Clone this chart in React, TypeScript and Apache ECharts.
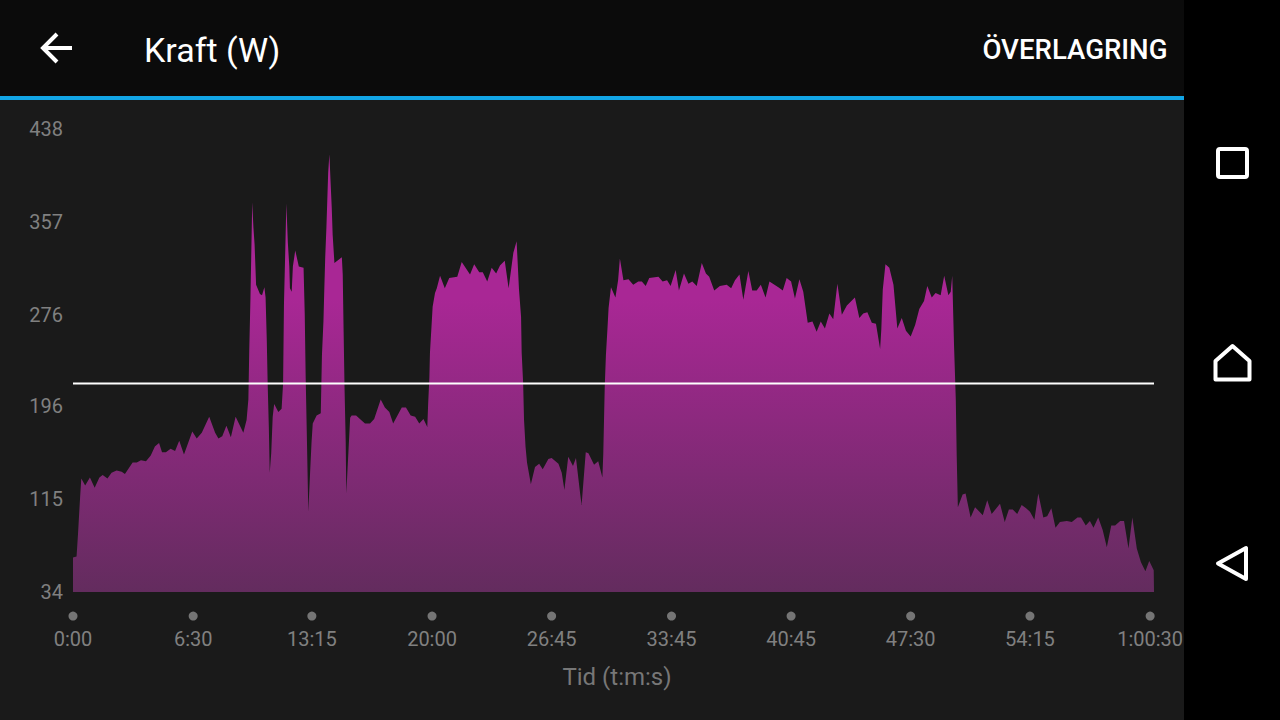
import React, { useEffect, useRef } from "react";
import * as echarts from "echarts";

const seconds = [
  0, 12, 17, 24, 28, 41, 57, 73, 89, 100, 116, 130, 147, 164, 175, 201, 215, 229, 246, 262, 276, 290, 300, 313, 329, 344, 358, 374, 402, 417, 434, 459, 479, 490, 503, 517, 532, 548, 574, 585,
  591, 594, 598, 601, 604, 608, 612, 617, 630, 637, 645, 649, 653, 656, 660, 663, 668, 673, 678, 692, 703, 708, 711, 715, 719, 724, 729, 731, 737, 741, 749, 761, 777, 781, 784, 788, 793, 799, 804, 808,
  821, 835, 839, 844, 847, 850, 854, 857, 860, 864, 868, 872, 875, 881, 906, 909, 912, 915, 919, 921, 926, 934, 939, 954, 967, 984, 1001, 1015, 1037, 1051, 1066, 1079, 1108, 1122, 1138, 1153, 1167, 1181, 1194,
  1197, 1201, 1203, 1208, 1212, 1220, 1226, 1237, 1253, 1268, 1295, 1310, 1338, 1352, 1369, 1381, 1396, 1411, 1426, 1439, 1455, 1468, 1484, 1495, 1503, 1510, 1512, 1517, 1520, 1525, 1530, 1543, 1557, 1571, 1583,
  1602, 1613, 1636, 1647, 1656, 1669, 1685, 1695, 1709, 1714, 1728, 1737, 1756, 1770, 1784, 1787, 1792, 1796, 1801, 1805, 1813, 1828, 1837, 1843, 1855, 1872, 1888, 1905, 1917, 1930, 1942, 1973, 1987, 2002, 2014,
  2031, 2042, 2059, 2074, 2087, 2102, 2119, 2133, 2144, 2161, 2180, 2203, 2218, 2231, 2246, 2259, 2276, 2289, 2304, 2318, 2334, 2347, 2377, 2392, 2405, 2420, 2433, 2448, 2461, 2476, 2492, 2506, 2520, 2534, 2549,
  2562, 2576, 2591, 2608, 2635, 2650, 2663, 2677, 2692, 2706, 2720, 2724, 2729, 2738, 2751, 2765, 2778, 2793, 2807, 2823, 2838, 2852, 2868, 2879, 2894, 2907, 2924, 2936, 2950, 2958, 2963, 2969, 2975, 2978, 2982,
  2998, 3008, 3025, 3040, 3066, 3081, 3096, 3124, 3140, 3154, 3167, 3182, 3197, 3212, 3225, 3240, 3253, 3270, 3283, 3297, 3311, 3326, 3349, 3366, 3385, 3397, 3413, 3427, 3439, 3455, 3470, 3484, 3499, 3512, 3529,
  3542, 3557, 3570, 3585, 3599, 3614, 3627, 3642,
];

const watts = [
  64, 65, 85, 117, 133, 127, 134, 125, 134, 136, 133, 138, 140, 139, 137, 147, 147, 149, 148, 153, 161, 164, 156, 156, 159, 157, 166, 154, 174, 168, 173, 187, 173, 168, 170, 179, 169, 187, 173, 184,
  202, 245, 290, 332, 374, 352, 337, 302, 294, 293, 300, 291, 254, 216, 177, 138, 155, 187, 198, 191, 194, 216, 286, 328, 373, 339, 318, 299, 296, 318, 332, 318, 317, 276, 223, 171, 104, 138, 165, 181,
  188, 190, 241, 270, 299, 326, 352, 376, 400, 416, 392, 369, 346, 321, 326, 311, 261, 213, 165, 120, 145, 186, 188, 188, 185, 181, 181, 185, 202, 195, 191, 181, 195, 195, 188, 187, 181, 185, 178,
  199, 221, 243, 265, 283, 295, 299, 310, 299, 308, 309, 322, 311, 320, 313, 313, 305, 317, 312, 319, 323, 299, 330, 340, 298, 274, 243, 216, 184, 161, 147, 128, 143, 146, 141,
  150, 151, 146, 138, 123, 152, 144, 151, 120, 110, 156, 155, 145, 148, 134, 154, 213, 241, 263, 282, 300, 291, 306, 325, 306, 307, 302, 305, 305, 301, 308, 309, 305, 306, 301,
  315, 297, 312, 303, 305, 301, 321, 312, 309, 297, 301, 302, 299, 306, 311, 289, 314, 297, 297, 302, 291, 305, 300, 297, 308, 305, 290, 307, 296, 269, 270, 261, 270, 264, 277,
  272, 303, 276, 284, 291, 273, 277, 278, 269, 268, 246, 263, 298, 320, 317, 302, 264, 273, 262, 257, 267, 281, 288, 301, 291, 295, 293, 310, 293, 296, 310, 250, 202, 154, 108,
  119, 120, 99, 108, 101, 114, 102, 111, 95, 106, 106, 102, 110, 107, 104, 97, 120, 99, 100, 107, 90, 95, 96, 95, 99, 99, 92, 96, 90, 99, 88, 73, 92, 92, 96,
  96, 72, 99, 72, 60, 52, 61, 53,
];

const yTickValues = [34, 115, 196, 276, 357, 438];
const xTickSeconds = [0, 405, 805, 1210, 1613, 2017, 2420, 2823, 3225, 3630];
const xTickLabels = ["0:00", "6:30", "13:15", "20:00", "26:45", "33:45", "40:45", "47:30", "54:15", "1:00:30"];
const averageWatts = 216;
const xEnd = 3643;

export default function App() {
  const ref = useRef<HTMLDivElement>(null);

  useEffect(() => {
    const chart = echarts.init(ref.current, null, { renderer: "svg" });
    const white = "#ffffff";
    chart.setOption({
      animation: false,
      backgroundColor: "#1a1a1a",
      textStyle: { fontFamily: "Roboto" },
      grid: { left: 73, right: 126, top: 129, bottom: 128 },
      xAxis: {
        type: "value",
        min: 0,
        max: xEnd,
        name: "Tid (t:m:s)",
        nameLocation: "middle",
        nameGap: 73,
        nameTextStyle: { color: "#777777", fontSize: 24, fontFamily: "Roboto", padding: [0, 0, 0, 7] },
        axisLine: { show: false },
        axisTick: { show: false },
        splitLine: { show: false },
        axisLabel: {
          customValues: xTickSeconds,
          margin: 37,
          color: "#808080",
          fontSize: 20,
          fontFamily: "Roboto",
          formatter: (v: number) => xTickLabels[xTickSeconds.indexOf(v)] ?? "",
        },
      },
      yAxis: {
        type: "value",
        min: 34,
        max: 438,
        axisLine: { show: false },
        axisTick: { show: false },
        splitLine: { show: false },
        axisLabel: {
          customValues: yTickValues,
          margin: 10,
          padding: [3, 0, 0, 0],
          color: "#808080",
          fontSize: 20,
          fontFamily: "Roboto",
        },
      },
      series: [
        {
          type: "line",
          data: seconds.map((s, i) => [s, watts[i]]).concat([[xEnd, watts[watts.length - 1]]]),
          showSymbol: false,
          symbol: "none",
          lineStyle: { width: 0, opacity: 0 },
          areaStyle: {
            opacity: 1,
            color: {
              type: "linear",
              x: 0,
              y: 0,
              x2: 0,
              y2: 1,
              colorStops: [
                { offset: 0, color: "#a92795" },
                { offset: 0.33, color: "#a92795" },
                { offset: 1, color: "#632c5e" },
              ],
            },
          },
          z: 2,
        },
        {
          type: "line",
          data: [
            [0, averageWatts],
            [xEnd, averageWatts],
          ],
          showSymbol: false,
          symbol: "none",
          lineStyle: { color: "#ffffff", width: 2 },
          z: 3,
        },
        {
          type: "scatter",
          clip: false,
          symbol: "circle",
          symbolSize: 9,
          itemStyle: { color: "#8c8c8c" },
          data: xTickSeconds.map((s) => [s, 13]),
          z: 3,
        },
      ],
      graphic: [
        { type: "rect", z: 10, shape: { x: 0, y: 0, width: 1184, height: 96 }, style: { fill: "#0b0b0b" } },
        { type: "rect", z: 10, shape: { x: 0, y: 96, width: 1184, height: 4 }, style: { fill: "#12a5e6" } },
        { type: "rect", z: 10, shape: { x: 1184, y: 0, width: 96, height: 720 }, style: { fill: "#000000" } },
        { type: "line", z: 11, shape: { x1: 43, y1: 48, x2: 72, y2: 48 }, style: { stroke: white, lineWidth: 4 } },
        {
          type: "polyline",
          z: 11,
          shape: { points: [[57, 34], [43, 48], [57, 62]] },
          style: { stroke: white, lineWidth: 4, fill: "none" },
        },
        {
          type: "text",
          z: 11,
          x: 144,
          y: 50,
          style: { text: "Kraft (W)", fill: white, font: '400 34px Roboto', verticalAlign: "middle" },
        },
        {
          type: "text",
          z: 11,
          x: 1167.5,
          y: 49,
          style: { text: "ÖVERLAGRING", fill: white, font: '500 27.6px Roboto', align: "right", verticalAlign: "middle" },
        },
        {
          type: "rect",
          z: 11,
          shape: { x: 1218, y: 149, width: 29, height: 28, r: 2 },
          style: { stroke: white, lineWidth: 4, fill: "none" },
        },
        {
          type: "polygon",
          z: 11,
          shape: { points: [[1232.5, 346], [1249.5, 361], [1249.5, 379.5], [1215.5, 379.5], [1215.5, 361]] },
          style: { stroke: white, lineWidth: 4, fill: "none", lineJoin: "round" },
        },
        {
          type: "polygon",
          z: 11,
          shape: { points: [[1246, 548], [1246, 579], [1218, 563.5]] },
          style: { stroke: white, lineWidth: 4, fill: "none", lineJoin: "round" },
        },
      ],
    });
    return () => chart.dispose();
  }, []);

  return <div ref={ref} style={{ position: "fixed", left: 0, top: 0, width: 1280, height: 720 }} />;
}
